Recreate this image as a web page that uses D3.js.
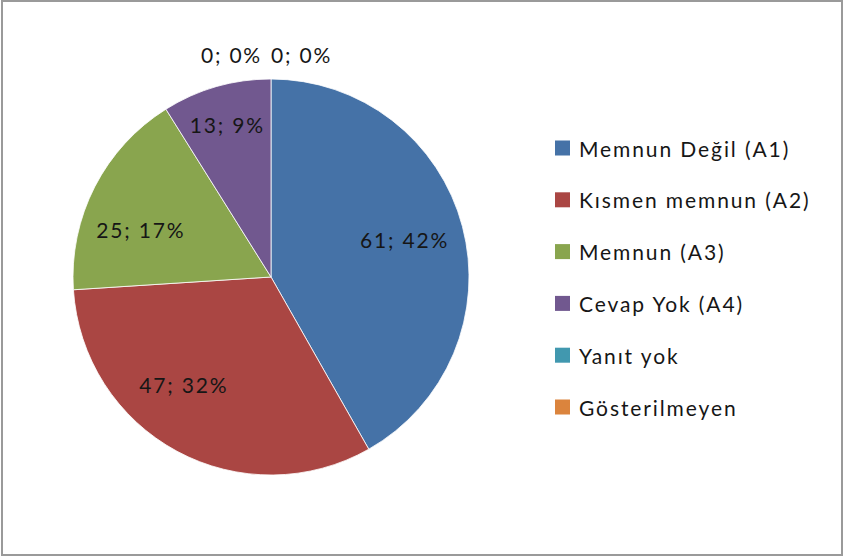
<!DOCTYPE html>
<html><head><meta charset="utf-8">
<script src="https://cdn.jsdelivr.net/npm/d3@7"></script>
<style>
html,body{margin:0;padding:0;background:#fff;}
svg text{font-family:Lato,"Open Sans",sans-serif;fill:#161616;}
</style></head>
<body>
<svg id="chart" width="843" height="558"></svg>
<script>
const categories = ["Memnun Değil (A1)", "Kısmen memnun (A2)", "Memnun (A3)", "Cevap Yok (A4)", "Yanıt yok", "Gösterilmeyen"];
const values = [61, 47, 25, 13, 0, 0];
const colors = ["#4572A7", "#AA4643", "#89A54E", "#71588F", "#4198AF", "#DB843D"];

const W = 843, H = 558;
const svg = d3.select("#chart");
svg.append("rect").attr("x", 2).attr("y", 1).attr("width", 840).attr("height", 554)
  .attr("fill", "#fff").attr("stroke", "#9a9a9a").attr("stroke-width", 2);

const cx = 271, cy = 277, r = 198;
const total = d3.sum(values);
const data = categories.map((c, i) => ({name: c, value: values[i], color: colors[i]}));
const pie = d3.pie().value(d => d.value).sort(null);
const arcs = pie(data);
const arc = d3.arc().innerRadius(0).outerRadius(r);
const g = svg.append("g").attr("transform", `translate(${cx},${cy})`);
g.selectAll("path").data(arcs.filter(a => a.data.value > 0)).join("path")
  .attr("d", arc).attr("fill", d => d.data.color)
  .attr("stroke", "#fff").attr("stroke-width", 0.8);

const fmt = d => `${d.data.value}; ${Math.round(d.data.value / total * 100)}%`;
const labelFont = 21, ls = 1.8;
// Excel-like "best fit" label placement: small angular nudges (degrees) from the slice middle
const angleNudge = [-0.7, 10.6, -7, 0];
arcs.forEach((a, i) => {
  if (a.data.value > 0) {
    const share = a.data.value / total;
    const lr = share < 0.1 ? 0.8 * r : 0.7 * r;
    const ang = (a.startAngle + a.endAngle) / 2 + (angleNudge[i] || 0) * Math.PI / 180;
    const x = lr * Math.sin(ang), y = -lr * Math.cos(ang);
    g.append("text").attr("x", x).attr("y", y)
      .attr("text-anchor", "middle").attr("dominant-baseline", "central")
      .style("font-size", labelFont + "px").style("letter-spacing", ls + "px")
      .text(fmt(a));
  }
});
// zero-value labels placed outside the top of the pie
const zeros = arcs.filter(a => a.data.value === 0);
zeros.forEach((a, k) => {
  const y = -r - 25;
  g.append("text").attr("x", k === 0 ? -9 : 0).attr("y", y)
    .attr("text-anchor", k === 0 ? "end" : "start").attr("dominant-baseline", "central")
    .style("font-size", labelFont + "px").style("letter-spacing", ls + "px")
    .text(fmt(a));
});

// legend
const ly = d3.scalePoint().domain(categories).range([148, 407]);
const leg = svg.append("g");
categories.forEach((c, i) => {
  leg.append("rect").attr("x", 555).attr("y", ly(c) - 7.5).attr("width", 15).attr("height", 15)
    .attr("fill", colors[i]);
  leg.append("text").attr("x", 579).attr("y", ly(c)).attr("dominant-baseline", "central")
    .style("font-size", "21px").style("letter-spacing", "1.9px").text(c);
});
</script>
</body></html>
